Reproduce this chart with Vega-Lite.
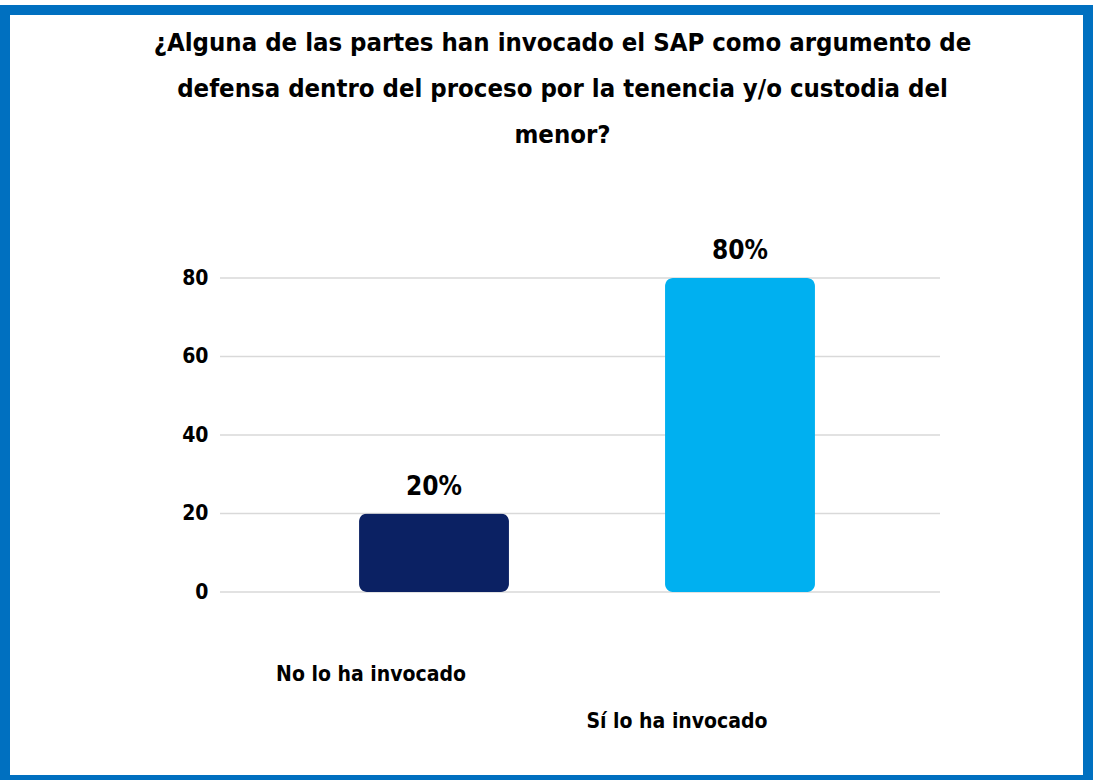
{
  "$schema": "https://vega.github.io/schema/vega-lite/v6.json",
  "width": 1083,
  "height": 770,
  "autosize": {"type": "none"},
  "padding": {"left": 5, "top": 10, "right": 5, "bottom": 0},
  "background": "white",
  "config": {
    "view": {"stroke": "#0070C0", "strokeWidth": 10},
    "font": "DejaVu Sans Condensed, Roboto, sans-serif"
  },
  "title": {
    "text": ["¿Alguna de las partes han invocado el SAP como argumento de", "defensa dentro del proceso por la tenencia y/o custodia del", "menor?"],
    "orient": "top",
    "anchor": "middle",
    "frame": "group",
    "baseline": "top",
    "offset": -138,
    "dx": 16,
    "font": "DejaVu Sans Condensed, Roboto, sans-serif",
    "fontSize": 25.5,
    "fontWeight": "bold",
    "lineHeight": 46,
    "color": "#000000"
  },
  "datasets": {
    "answers": [
      {"respuesta": "No lo ha invocado", "porcentaje": 20, "etiqueta": "20%"},
      {"respuesta": "Sí lo ha invocado", "porcentaje": 80, "etiqueta": "80%"}
    ],
    "grid": [{"v": 0}, {"v": 20}, {"v": 40}, {"v": 60}, {"v": 80}]
  },
  "layer": [
    {
      "data": {"name": "grid"},
      "mark": {"type": "rule", "color": "#D9D9D9", "strokeWidth": 1.5},
      "encoding": {
        "y": {
          "field": "v", "type": "quantitative",
          "scale": {"domain": [-47.9, 148.3], "nice": false, "zero": false},
          "axis": {
            "title": null, "values": [0, 20, 40, 60, 80], "grid": false, "domain": false, "ticks": false,
            "offset": -213, "labelPadding": 10,
            "labelFont": "DejaVu Sans Condensed, Roboto, sans-serif", "labelFontSize": 21, "labelFontWeight": "bold", "labelColor": "#000000"
          }
        },
        "x": {"datum": 0, "type": "quantitative", "scale": {"domain": [0, 1], "range": [215, 935]}, "axis": null},
        "x2": {"datum": 1}
      }
    },
    {
      "data": {"name": "answers"},
      "mark": {"type": "bar", "cornerRadius": 8},
      "encoding": {
        "x": {
          "field": "respuesta", "type": "nominal", "sort": null,
          "scale": {"range": [276, 888], "paddingInner": 0.51, "paddingOuter": 0.255},
          "axis": {
            "title": null, "domain": false, "ticks": false, "labelAngle": 0,
            "offset": -125,
            "labelOffset": -63,
            "labelLimit": 0,
            "labelBaseline": "top",
            "labelPadding": {"condition": {"test": "datum.value === 'Sí lo ha invocado'", "value": 55}, "value": 8},
            "labelFont": "DejaVu Sans Condensed, Roboto, sans-serif", "labelFontSize": 21, "labelFontWeight": "bold", "labelColor": "#000000"
          }
        },
        "y": {
          "field": "porcentaje", "type": "quantitative",
          "scale": {"domain": [-47.9, 148.3], "nice": false, "zero": false},
          "axis": {
            "title": null, "values": [0, 20, 40, 60, 80], "grid": false, "domain": false, "ticks": false,
            "offset": -213, "labelPadding": 10,
            "labelFont": "DejaVu Sans Condensed, Roboto, sans-serif", "labelFontSize": 21, "labelFontWeight": "bold", "labelColor": "#000000"
          }
        },
        "color": {
          "field": "respuesta", "type": "nominal",
          "scale": {"domain": ["No lo ha invocado", "Sí lo ha invocado"], "range": ["#0B2163", "#00B0F0"]},
          "legend": null
        }
      }
    },
    {
      "data": {"name": "answers"},
      "mark": {"type": "text", "baseline": "bottom", "dy": -14, "fontSize": 26, "fontWeight": "bold", "font": "DejaVu Sans Condensed, Roboto, sans-serif", "color": "#000000"},
      "encoding": {
        "x": {
          "field": "respuesta", "type": "nominal", "sort": null,
          "scale": {"range": [276, 888], "paddingInner": 0.51, "paddingOuter": 0.255},
          "axis": null
        },
        "y": {
          "field": "porcentaje", "type": "quantitative",
          "scale": {"domain": [-47.9, 148.3], "nice": false, "zero": false},
          "axis": {
            "title": null, "values": [0, 20, 40, 60, 80], "grid": false, "domain": false, "ticks": false,
            "offset": -213, "labelPadding": 10,
            "labelFont": "DejaVu Sans Condensed, Roboto, sans-serif", "labelFontSize": 21, "labelFontWeight": "bold", "labelColor": "#000000"
          }
        },
        "text": {"field": "etiqueta"}
      }
    }
  ],
  "resolve": {"scale": {"x": "independent"}}
}
